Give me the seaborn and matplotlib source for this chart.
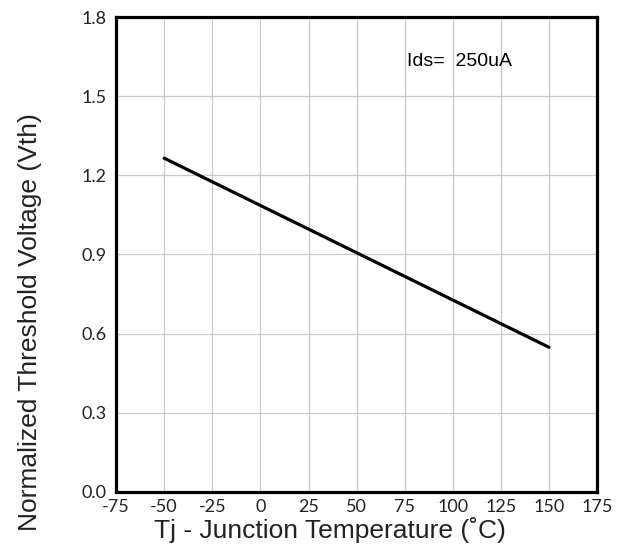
import matplotlib
matplotlib.use("Agg")
import matplotlib.pyplot as plt
import seaborn as sns
import pandas as pd

# threshold voltage vs junction temperature
temp_c = [-50, 150]
vth = [1.265, 0.548]
x_ticks = [-75, -50, -25, 0, 25, 50, 75, 100, 125, 150, 175]
y_ticks = [0.0, 0.3, 0.6, 0.9, 1.2, 1.5, 1.8]

df = pd.DataFrame({"temp": temp_c, "vth": vth})

sns.set_theme(style="white")
plt.rcParams["font.family"] = ["Liberation Sans", "DejaVu Sans"]

fig = plt.figure(figsize=(6.24, 5.49), dpi=100, facecolor="white")
ax = fig.add_axes([0.186, 0.104, 0.771, 0.865])

sns.lineplot(data=df, x="temp", y="vth", color="black", linewidth=2.3, ax=ax)

ax.set_xlim(-75, 175)
ax.set_ylim(0, 1.8)
ax.set_xticks(x_ticks)
ax.set_yticks(y_ticks)
ax.set_xticklabels([str(t) for t in x_ticks], fontsize=13, family="Lato")
ax.set_yticklabels([f"{t:.1f}" for t in y_ticks], fontsize=13, family="Lato")
ax.tick_params(axis="x", length=0, pad=5, colors="#222222")
ax.tick_params(axis="y", length=0, pad=7, colors="#222222")
ax.grid(True, color="#c8c8c8", linewidth=0.9)

for sp in ax.spines.values():
    sp.set_color("black")
    sp.set_linewidth(2.3)

ax.set_xlabel("Tj - Junction Temperature (˚C)", fontsize=19, color="#222222")
ax.xaxis.set_label_coords(0.445, -0.052)
ax.set_ylabel("Normalized Threshold Voltage (Vth)", fontsize=19, color="#222222",
              va="center")
ax.yaxis.set_label_coords(-0.179, 0.358)

ax.text(0.605, 0.897, "Ids=  250uA", transform=ax.transAxes, fontsize=14,
        color="black", va="baseline")

fig.savefig("out.png", dpi=100, facecolor="white")
